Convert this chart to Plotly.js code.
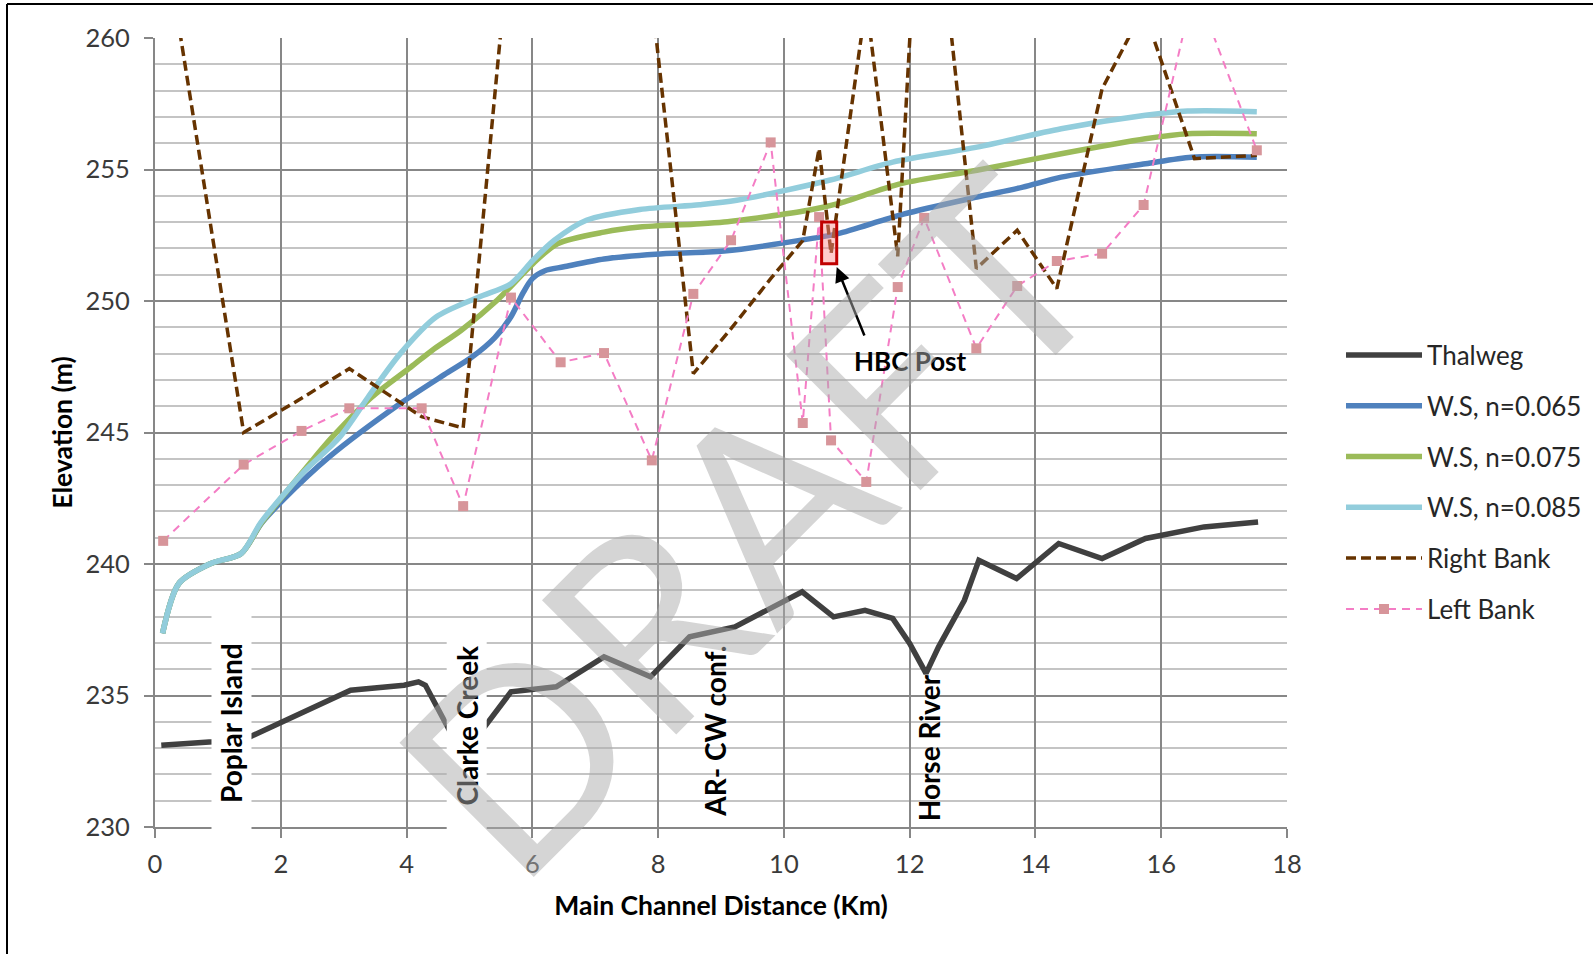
<!DOCTYPE html>
<html>
<head>
<meta charset="utf-8">
<script src="https://cdn.plot.ly/plotly-3.0.1.min.js"></script>
<style>
html,body{margin:0;padding:0;background:#ffffff;}
#chart{width:1593px;height:954px;}
</style>
</head>
<body>
<div id="chart"></div>
<script>
// ---- Data ----
// Cross-section stations (km) used by the bank series
const stationKm = [0.13, 1.41, 2.33, 3.09, 4.24, 4.90, 5.66, 6.45, 7.14, 7.90, 8.56, 9.16, 9.79,
  10.30, 10.56, 10.75, 11.31, 11.81, 12.23, 13.06, 13.71, 14.34, 15.06, 15.72, 16.53, 17.52];
const leftBankElev = [240.88, 243.78, 245.06, 245.92, 245.92, 242.2, 250.13, 247.67, 248.02, 243.94,
  250.27, 252.31, 256.03, 245.36, 253.19, 244.70, 243.12, 250.53, 253.16, 248.2, 250.57, 251.52,
  251.8, 253.65, 262.0, 255.73];
const rightBankElev = [264.2, 245.0, 246.3, 247.43, 245.6, 245.17, 264.3, 268.0, 266.0, 261.5,
  247.24, 248.95, 250.85, 252.3, 255.8, 251.8, 261.4, 251.7, 269.8, 251.23, 252.69, 250.47,
  258.07, 261.1, 255.41, 255.54];

const thalwegKm = [0.10, 0.92, 1.51, 2.25, 3.11, 3.96, 4.19, 4.30, 4.64, 4.90, 5.24, 5.66, 6.38,
  7.14, 7.88, 8.50, 9.22, 9.80, 10.29, 10.79, 11.29, 11.73, 12.00, 12.26, 12.46, 12.87, 13.10,
  13.70, 14.37, 15.06, 15.75, 16.68, 17.54];
const thalwegElev = [233.11, 233.24, 233.43, 234.25, 235.2, 235.39, 235.52, 235.39, 233.81, 232.7,
  233.81, 235.14, 235.33, 236.47, 235.71, 237.23, 237.61, 238.3, 238.94, 237.99, 238.24, 237.93,
  236.98, 235.84, 236.85, 238.62, 240.14, 239.45, 240.78, 240.21, 240.97, 241.41, 241.6];

const ws065Km = [0.12, 0.38, 0.89, 1.37, 1.69, 2.03, 2.77, 3.90, 4.60, 5.03, 5.40, 5.66, 5.85, 6.00,
  6.20, 6.50, 7.14, 7.96, 9.05, 10.45, 10.86, 11.90, 13.07, 13.80, 14.41, 15.75, 16.48, 17.52];
const ws065Elev = [237.36, 239.26, 240.02, 240.4, 241.54, 242.42, 244.07, 246.1, 247.2, 247.85,
  248.6, 249.4, 250.3, 250.85, 251.15, 251.3, 251.6, 251.78, 251.9, 252.38, 252.56, 253.3,
  253.95, 254.33, 254.71, 255.22, 255.47, 255.47];

const ws075Km = [0.12, 0.38, 0.89, 1.37, 1.69, 2.48, 2.82, 3.45, 4.07, 4.41, 4.87, 5.44, 6.01, 6.40,
  7.14, 7.71, 8.56, 9.05, 10.39, 10.86, 11.86, 13.07, 14.41, 15.75, 16.42, 17.52];
const ws075Elev = [237.36, 239.26, 240.02, 240.4, 241.55, 243.88, 244.83, 246.35, 247.49, 248.13,
  248.89, 250.03, 251.42, 252.18, 252.62, 252.81, 252.92, 253.0, 253.45, 253.70, 254.46, 254.97,
  255.6, 256.17, 256.36, 256.36];

const ws085Km = [0.12, 0.38, 0.89, 1.37, 1.69, 2.34, 2.94, 3.39, 3.90, 4.47, 5.15, 5.66, 6.01, 6.35,
  6.86, 7.71, 8.66, 9.25, 10.72, 11.73, 13.07, 14.41, 15.75, 16.42, 17.52];
const ws085Elev = [237.36, 239.26, 240.02, 240.4, 241.6, 243.44, 244.83, 246.35, 248.0, 249.39,
  250.15, 250.66, 251.55, 252.31, 253.07, 253.48, 253.66, 253.83, 254.59, 255.28, 255.85, 256.55,
  257.06, 257.22, 257.2];

const seriesNames = ['Thalweg', 'W.S, n=0.065', 'W.S, n=0.075', 'W.S, n=0.085', 'Right Bank', 'Left Bank'];
const xTickVals = [0, 2, 4, 6, 8, 10, 12, 14, 16, 18];
const yTickVals = [230, 235, 240, 245, 250, 255, 260];

// ---- Styling ----
const FONT = 'Lato, "Open Sans", sans-serif';
const M = {l:155, r:306, t:38, b:127};
const W = 1593, H = 954;
const plotW = W - M.l - M.r, plotH = H - M.t - M.b;
const pxX = px => (px - M.l) / plotW;
const pxY = py => (H - M.b - py) / plotH;

const traces = [
  {x: thalwegKm, y: thalwegElev, name: seriesNames[0], mode: 'lines',
   line: {color: '#404040', width: 5.5}},
  {x: ws065Km, y: ws065Elev, name: seriesNames[1], mode: 'lines',
   line: {color: '#4f81bd', width: 5.5, shape: 'spline', smoothing: 0.8}},
  {x: ws075Km, y: ws075Elev, name: seriesNames[2], mode: 'lines',
   line: {color: '#9bbb59', width: 5.5, shape: 'spline', smoothing: 0.8}},
  {x: ws085Km, y: ws085Elev, name: seriesNames[3], mode: 'lines',
   line: {color: '#92cddc', width: 5.5, shape: 'spline', smoothing: 0.8}},
  {x: stationKm, y: rightBankElev, name: seriesNames[4], mode: 'lines',
   line: {color: '#663300', width: 3.5, dash: '10px,5px'}},
  {x: stationKm, y: leftBankElev, name: seriesNames[5], mode: 'lines+markers',
   line: {color: '#f47dc5', width: 2, dash: '8px,6px'},
   marker: {symbol: 'square', size: 10, color: '#d7959a'}}
];
traces.forEach((t, i) => { t.legendgroup = 'g' + i; t.hoverinfo = 'x+y+name'; });

const labelFont = {family: FONT, size: 28, color: '#000000', weight: 'bold'};

const layout = {
  width: W, height: H,
  margin: M,
  paper_bgcolor: '#ffffff', plot_bgcolor: '#ffffff',
  font: {family: FONT, color: '#262626'},
  showlegend: true,
  xaxis: {
    range: [0, 18], tickvals: xTickVals, ticktext: xTickVals.map(String),
    showgrid: true, gridcolor: '#878787', gridwidth: 2,
    zeroline: false, showline: true, linecolor: '#878787', linewidth: 2,
    ticks: 'outside', ticklen: 9, tickwidth: 2, tickcolor: '#878787',
    ticklabelstandoff: 4,
    tickfont: {family: FONT, size: 25.5, color: '#3a3a3a'},
    title: {text: 'Main Channel Distance (Km)', standoff: 20,
            font: {family: FONT, size: 26.5, color: '#000000', weight: 'bold'}},
    fixedrange: true
  },
  yaxis: {
    range: [230, 260], tickvals: yTickVals, ticktext: yTickVals.map(String),
    showgrid: true, gridcolor: '#878787', gridwidth: 2,
    zeroline: false, showline: true, linecolor: '#878787', linewidth: 2,
    ticks: 'outside', ticklen: 9, tickwidth: 2, tickcolor: '#878787',
    ticklabelstandoff: 9,
    tickfont: {family: FONT, size: 25.5, color: '#3a3a3a'},
    minor: {dtick: 1, tick0: 230, showgrid: true, gridcolor: '#c4c4c4', gridwidth: 2, ticks: ''},
    title: {text: 'Elevation (m)', standoff: 5,
            font: {family: FONT, size: 26.5, color: '#000000', weight: 'bold'}},
    fixedrange: true
  },
  legend: {
    xref: 'container', yref: 'container',
    x: 1341 / W, xanchor: 'left', y: (H - 482) / H, yanchor: 'middle',
    font: {family: FONT, size: 26, color: '#262626'},
    itemwidth: 76, tracegroupgap: 14, bgcolor: 'rgba(0,0,0,0)'
  },
  shapes: [
    // HBC Post marker box
    {type: 'rect', xref: 'x', yref: 'y', x0: 10.60, x1: 10.84, y0: 251.42, y1: 253.0,
     line: {color: '#c00000', width: 3}, fillcolor: 'rgba(255,140,140,0.45)', layer: 'above'},
    // outer frame (left and top edges)
    {type: 'line', xref: 'paper', yref: 'paper', x0: pxX(7), x1: pxX(7), y0: pxY(H), y1: pxY(4),
     line: {color: '#000000', width: 2}},
    {type: 'line', xref: 'paper', yref: 'paper', x0: pxX(7), x1: pxX(W), y0: pxY(4), y1: pxY(4),
     line: {color: '#000000', width: 2}}
  ],
  annotations: [
    {text: 'Poplar Island', xref: 'x', yref: 'y', x: 1.21, y: 233.95, showarrow: false,
     textangle: -90, font: labelFont, bgcolor: '#ffffff', width: 212, height: 37},
    {text: 'Clarke Creek', xref: 'x', yref: 'y', x: 4.96, y: 233.85, showarrow: false,
     textangle: -90, font: labelFont, bgcolor: '#ffffff', width: 212, height: 37},
    {text: 'AR- CW conf.', xref: 'x', yref: 'y', x: 8.90, y: 233.65, showarrow: false,
     textangle: -90, font: labelFont},
    {text: 'Horse River', xref: 'x', yref: 'y', x: 12.31, y: 233.0, showarrow: false,
     textangle: -90, font: labelFont},
    {text: 'HBC Post', xref: 'x', yref: 'y', x: 12.02, y: 247.71, showarrow: false,
     font: {family: FONT, size: 26, color: '#000000', weight: 'bold'}},
    // arrow pointing at the HBC Post box
    {text: '', xref: 'x', yref: 'y', axref: 'x', ayref: 'y', x: 10.84, y: 251.29,
     ax: 11.29, ay: 248.63, showarrow: true, arrowhead: 2, arrowsize: 1.2, arrowwidth: 2.5,
     arrowcolor: '#000000', standoff: 0},
    // DRAFT watermark
    {text: 'DRAFT', xref: 'paper', yref: 'paper', x: pxX(745), y: pxY(520), showarrow: false,
     textangle: -45, font: {family: FONT, size: 265, color: 'rgba(172,172,172,0.5)'}}
  ]
};

Plotly.newPlot('chart', traces, layout, {staticPlot: true, displayModeBar: false});
</script>
</body>
</html>
